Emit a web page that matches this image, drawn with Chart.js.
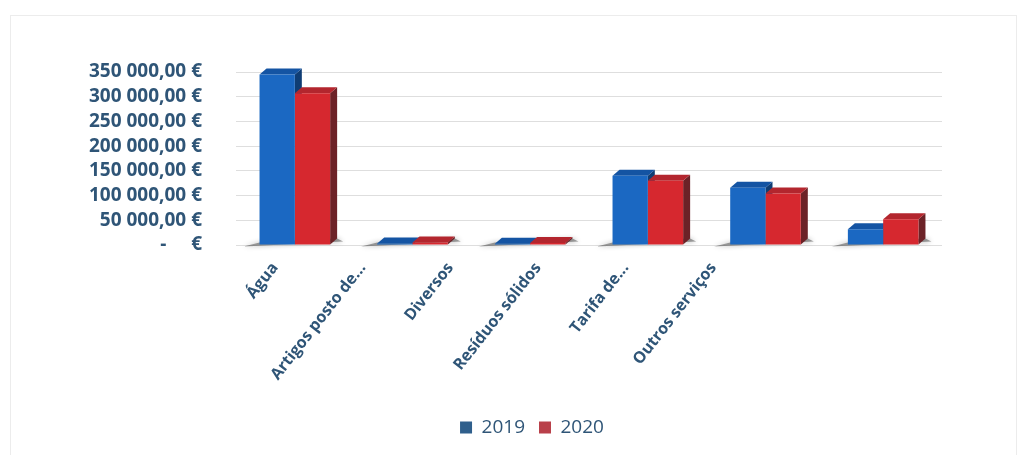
<!DOCTYPE html>
<html>
<head>
<meta charset="utf-8">
<script src="https://cdn.jsdelivr.net/npm/chart.js@4.4.1/dist/chart.umd.min.js"></script>
<style>
  html, body { margin: 0; padding: 0; background: #fff; }
  #wrap { position: relative; width: 1032px; height: 455px; }
  #frame { position: absolute; left: 10px; top: 15px; width: 1005px; height: 445px; border: 1px solid #ececec; }
  canvas { position: absolute; left: 0; top: 0; }
</style>
</head>
<body>
<div id="wrap">
  <div id="frame"></div>
  <canvas id="myChart" width="1032" height="455"></canvas>
</div>
<script>
const categories = ['Água', 'Artigos posto de...', 'Diversos', 'Resíduos sólidos', 'Tarifa de...', 'Outros serviços'];
const values2019 = [345000, 3000, 2500, 140000, 116000, 32000];
const values2020 = [307000, 5000, 4000, 130000, 104000, 52000];
const yTicks = [0, 50000, 100000, 150000, 200000, 250000, 300000, 350000];

const textColor = '#2f5577';
const frontColors = ['#1b68c2', '#d6282f'];
const topColors = ['#1454a3', '#b3262e'];
const sideColors = ['#0f3d74', '#6c2227'];
const legendColors = ['#2f5f8c', '#b9404a'];
const depth = { dx: 7, dy: 6 };

function euro(v) {
  if (v === 0) return '-     €';
  return String(v).replace(/\B(?=(\d{3})+(?!\d))/g, ' ') + ',00 €';
}

// side and top faces + floor shadow, drawn behind the bar fronts
const bars3d = {
  id: 'bars3d',
  beforeDatasetsDraw(chart) {
    const c = chart.ctx;
    const m0 = chart.getDatasetMeta(0).data;
    const m1 = chart.getDatasetMeta(1).data;
    c.save();
    // floor shadows
    m0.forEach((b, i) => {
      const a = b.getProps(['x', 'base', 'width'], true);
      const r = m1[i].getProps(['x', 'width'], true);
      const x0 = a.x - a.width / 2, x1 = r.x + r.width / 2 + depth.dx;
      c.fillStyle = 'rgba(70,70,70,0.5)';
      c.shadowColor = 'rgba(0,0,0,0.6)';
      c.shadowBlur = 5;
      c.beginPath();
      c.moveTo(x0, a.base - 2);
      c.lineTo(x1, a.base - depth.dy);
      c.lineTo(x1 + 6, a.base - 3);
      c.lineTo(x0 - 16, a.base + 2);
      c.closePath();
      c.fill();
    });
    c.shadowBlur = 0;
    chart.data.datasets.forEach((ds, di) => {
      chart.getDatasetMeta(di).data.forEach(bar => {
        const { x, y, base, width } = bar.getProps(['x', 'y', 'base', 'width'], true);
        const x0 = x - width / 2, x1 = x + width / 2;
        c.fillStyle = sideColors[di];
        c.beginPath();
        c.moveTo(x1, y);
        c.lineTo(x1 + depth.dx, y - depth.dy);
        c.lineTo(x1 + depth.dx, base - depth.dy);
        c.lineTo(x1, base);
        c.closePath();
        c.fill();
        c.fillStyle = topColors[di];
        c.beginPath();
        c.moveTo(x0, y);
        c.lineTo(x0 + depth.dx, y - depth.dy);
        c.lineTo(x1 + depth.dx, y - depth.dy);
        c.lineTo(x1, y);
        c.closePath();
        c.fill();
      });
    });
    c.restore();
  }
};

// nudge the legend to the right, like in the original
const legendShift = {
  id: 'legendShift',
  afterLayout(chart) {
    chart.legend.left += 20;
    chart.legend.right += 20;
  }
};

const ctx = document.getElementById('myChart');

const config = {
  type: 'bar',
  data: {
    labels: categories,
    datasets: [
      { label: '2019', data: values2019, backgroundColor: frontColors[0], xAxisID: 'x' },
      { label: '2020', data: values2020, backgroundColor: frontColors[1], xAxisID: 'x' }
    ]
  },
  plugins: [bars3d, legendShift],
  options: {
    responsive: false,
    animation: false,
    datasets: {
      bar: { categoryPercentage: 0.6, barPercentage: 1.0 }
    },
    layout: {
      padding: { left: 82, right: 90, top: 72, bottom: 8 }
    },
    plugins: {
      legend: {
        position: 'bottom',
        labels: {
          boxWidth: 12,
          boxHeight: 12,
          padding: 14,
          color: textColor,
          font: { family: 'Open Sans', size: 19 },
          generateLabels: (chart) => chart.data.datasets.map((ds, i) => ({
            text: ds.label,
            fillStyle: legendColors[i],
            strokeStyle: legendColors[i],
            lineWidth: 0,
            fontColor: textColor,
            datasetIndex: i
          }))
        }
      },
      tooltip: { enabled: false }
    },
    scales: {
      x: {
        type: 'category',
        display: false
      },
      xl: {
        type: 'linear',
        position: 'bottom',
        offset: false,
        bounds: 'data',
        min: -0.445,
        max: 7.61,
        afterBuildTicks: (axis) => { axis.ticks = categories.map((c, i) => ({ value: i })); },
        afterFit: (axis) => { axis.height = 159; },
        grid: { display: false },
        border: { display: false },
        ticks: {
          minRotation: 52,
          maxRotation: 52,
          padding: 6,
          color: textColor,
          font: { family: 'Open Sans', size: 16, weight: 'bold' },
          callback: (v) => categories[v]
        }
      },
      y: {
        min: 0,
        max: 350000,
        afterBuildTicks: (axis) => { axis.ticks = yTicks.map(v => ({ value: v })); },
        afterFit: (axis) => { axis.width = 154; },
        border: { display: false },
        grid: { color: '#dedede', drawTicks: false },
        ticks: {
          autoSkip: false,
          padding: 34,
          color: textColor,
          font: { family: 'Open Sans', size: 19, weight: 'bold' },
          callback: (v) => euro(v)
        }
      }
    }
  }
};

const myChart = new Chart(ctx, config);
</script>
</body>
</html>
